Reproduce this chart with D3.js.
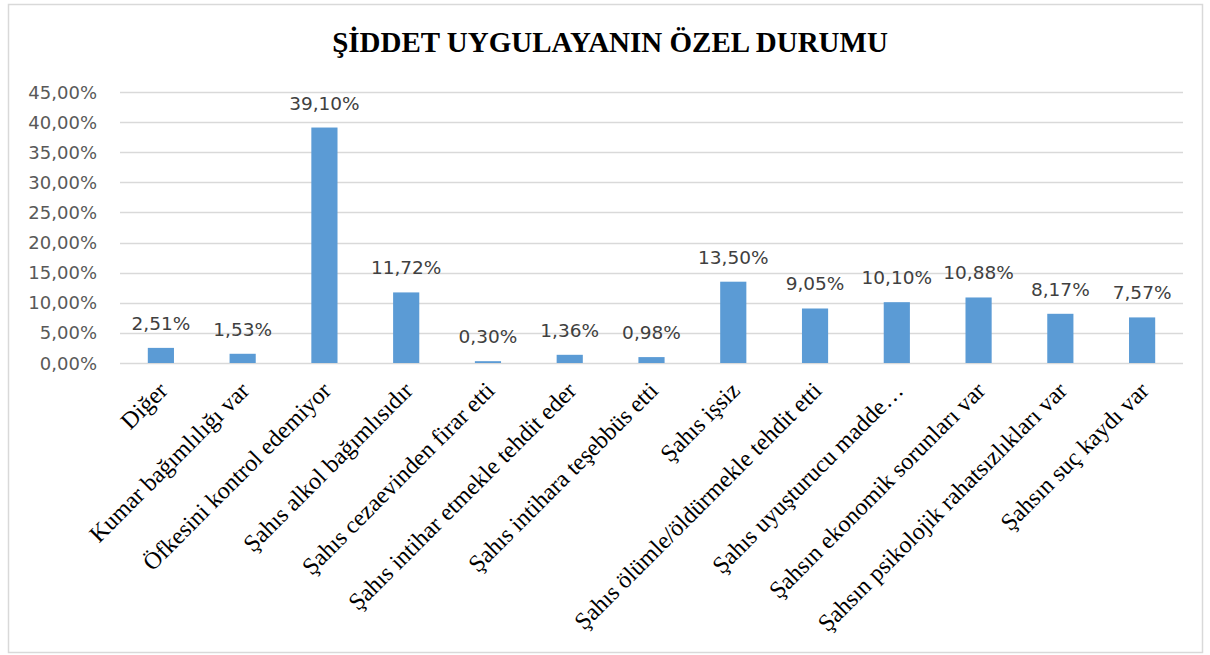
<!DOCTYPE html>
<html>
<head>
<meta charset="utf-8">
<script src="https://cdn.jsdelivr.net/npm/d3@7"></script>
<style>
  body { margin: 0; background: #fff; }
</style>
</head>
<body>
<div id="chart"></div>
<script>
// categories and their percentages
var categories = ["Diğer", "Kumar bağımlılığı var", "Öfkesini kontrol edemiyor",
  "Şahıs alkol bağımlısıdır", "Şahıs cezaevinden firar etti",
  "Şahıs intihar etmekle tehdit eder", "Şahıs intihara teşebbüs etti",
  "Şahıs işsiz", "Şahıs ölümle/öldürmekle tehdit etti", "Şahıs uyuşturucu madde…",
  "Şahsın ekonomik sorunları var", "Şahsın psikolojik rahatsızlıkları var",
  "Şahsın suç kaydı var"];
var values = [2.51, 1.53, 39.10, 11.72, 0.30, 1.36, 0.98, 13.50, 9.05, 10.10, 10.88, 8.17, 7.57];
var yTicks = [0, 5, 10, 15, 20, 25, 30, 35, 40, 45];
var title = "ŞİDDET UYGULAYANIN ÖZEL DURUMU";

var width = 1210,
    height = 655;

var svg = d3.select("#chart").append("svg")
  .attr("width", width)
  .attr("height", height);

// outer frame
svg.append("rect")
  .attr("x", 8.5).attr("y", 4.5)
  .attr("width", 1194).attr("height", 648)
  .attr("fill", "#fff")
  .style("stroke", "#d9d9d9")
  .style("stroke-width", "1.5px");

svg.append("text")
  .attr("x", 610)
  .attr("y", 52)
  .attr("text-anchor", "middle")
  .style("font-family", "'Liberation Serif', 'Times New Roman', serif")
  .style("font-weight", "bold")
  .style("font-size", "29px")
  .style("fill", "#000")
  .text(title);

var x = d3.scaleBand()
  .domain(categories)
  .range([120, 1183])
  .paddingInner(0.68)
  .paddingOuter(0.34);

var y = d3.scaleLinear()
  .domain([0, 45])
  .range([363, 92]);

// gridlines
svg.selectAll(".grid")
  .data(yTicks)
  .enter().append("line")
  .attr("class", "grid")
  .attr("x1", 120).attr("x2", 1183)
  .attr("y1", function(d) { return Math.round(y(d)) + 0.5; })
  .attr("y2", function(d) { return Math.round(y(d)) + 0.5; })
  .style("stroke", "#d9d9d9")
  .style("stroke-width", "1.5px");

// y labels
svg.selectAll(".ylab")
  .data(yTicks)
  .enter().append("text")
  .attr("class", "ylab")
  .attr("x", 97)
  .attr("y", function(d) { return y(d) + 6.5; })
  .attr("text-anchor", "end")
  .style("font-family", "'DejaVu Sans', sans-serif")
  .style("font-size", "18px")
  .style("fill", "#595959")
  .text(function(d) { return d3.format(".2f")(d).replace(".", ",") + "%"; });

// bars
svg.selectAll(".bar")
  .data(values)
  .enter().append("rect")
  .attr("class", "bar")
  .attr("x", function(d, i) { return x(categories[i]); })
  .attr("width", x.bandwidth())
  .attr("y", function(d) { return y(d); })
  .attr("height", function(d) { return y(0) - y(d); })
  .attr("fill", "#5b9bd5");

// value labels
svg.selectAll(".val")
  .data(values)
  .enter().append("text")
  .attr("class", "val")
  .attr("x", function(d, i) { return x(categories[i]) + x.bandwidth() / 2; })
  .attr("y", function(d) { return y(d) - 18; })
  .attr("text-anchor", "middle")
  .style("font-family", "'DejaVu Sans', sans-serif")
  .style("font-size", "18.5px")
  .style("fill", "#404040")
  .text(function(d) { return d3.format(".2f")(d).replace(".", ",") + "%"; });

// category labels, rotated
svg.selectAll(".xlab")
  .data(categories)
  .enter().append("text")
  .attr("class", "xlab")
  .attr("transform", function(d) {
    var cx = x(d) + x.bandwidth() / 2;
    return "translate(" + (cx + 8) + ",392) rotate(-45)";
  })
  .attr("text-anchor", "end")
  .style("font-family", "'Liberation Serif', 'Times New Roman', serif")
  .style("font-size", "24px")
  .style("fill", "#000")
  .text(function(d) { return d; });
</script>
</body>
</html>
